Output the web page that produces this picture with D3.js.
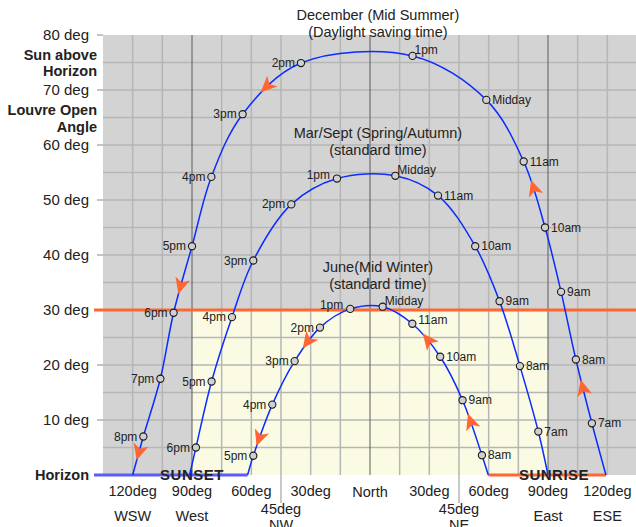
<!DOCTYPE html>
<html><head><meta charset="utf-8">
<script src="https://cdn.jsdelivr.net/npm/d3@7/dist/d3.min.js"></script>
<style>body{margin:0;background:#fff;} text{font-family:Arial,"Liberation Sans",Helvetica,sans-serif;fill:#222;}</style>
</head><body>
<svg id="c" width="636" height="527"></svg>
<script>
// ---- data (azimuth: negative = west, positive = east; altitude in degrees) ----
const decLabels = ["", "7am", "8am", "9am", "10am", "11am", "Midday", "1pm", "2pm", "3pm", "4pm", "5pm", "6pm", "7pm", "8pm", ""];
const decAz     = [119.3, 112.2, 104.1, 96.6, 88.5, 77.7, 58.8, 21.5, -34.9, -64.4, -80.2, -90.0, -99.3, -106.0, -114.6, -120.0];
const decAlt    = [0, 9.4, 21.0, 33.3, 45.0, 57.0, 68.2, 76.2, 74.9, 65.6, 54.2, 41.6, 29.5, 17.5, 7.0, 0];

const marLabels = ["", "7am", "8am", "9am", "10am", "11am", "Midday", "1pm", "2pm", "3pm", "4pm", "5pm", "6pm", ""];
const marAz     = [90.0, 85.1, 75.8, 65.5, 53.2, 34.4, 12.8, -16.7, -39.8, -59.0, -69.8, -80.1, -88.0, -91.2];
const marAlt    = [0, 7.9, 19.8, 31.6, 41.6, 50.8, 54.4, 53.9, 49.2, 39.0, 28.7, 17.0, 5.0, 0];

const junLabels = ["", "8am", "9am", "10am", "11am", "Midday", "1pm", "2pm", "3pm", "4pm", "5pm", ""];
const junAz     = [59.8, 56.6, 46.8, 35.5, 21.4, 6.4, -10.0, -25.3, -38.1, -49.4, -59.0, -61.9];
const junAlt    = [0, 3.6, 13.6, 21.5, 27.5, 30.6, 30.2, 26.8, 20.7, 12.8, 3.5, 0];

// direction arrows (approximate location on each path)
const decArrowAz  = [108.0, 83.1, -51.8, -95.6, -115.8];
const decArrowAlt = [15.8, 52.1, 70.7, 34.5, 4.2];
const junArrowAz  = [52.2, 30.0, -30.7, -55.1];
const junArrowAlt = [9.7, 24.5, 24.2, 6.7];

const yTicks = [10, 20, 30, 40, 50, 60, 70, 80];
const xTickVals  = [-120, -90, -60, -45, -30, 0, 30, 45, 60, 90, 120];
const xTickText  = ["120deg", "90deg", "60deg", "45deg", "30deg", "North", "30deg", "45deg", "60deg", "90deg", "120deg"];
const xDirVals   = [-120, -90, -45, 45, 90, 120];
const xDirText   = ["WSW", "West", "NW", "NE", "East", "ESE"];

const titles = [
  {lines: ["December (Mid Summer)", "(Daylight saving time)"], alt: 82.7},
  {lines: ["Mar/Sept (Spring/Autumn)", "(standard time)"], alt: 61.2},
  {lines: ["June(Mid Winter)", "(standard time)"], alt: 36.9}
];
const louvreAngle = 30;

// ---- layout / scales ----
const svg = d3.select("#c");
const x = d3.scaleLinear().domain([-135, 135]).range([103, 637]);
const y = d3.scaleLinear().domain([0, 80]).range([475, 35]);
const GRAY_BG = "#d3d3d3", GRID = "#b6b6b6", YELLOW = "#fbfbe3", ORANGE = "#ff6633", BLUE = "#0a2cff";

// background
svg.append("rect").attr("x", x(-135)).attr("y", y(80)).attr("width", x(135) - x(-135)).attr("height", y(0) - y(80)).attr("fill", GRAY_BG);
svg.append("rect").attr("x", x(-90)).attr("y", y(louvreAngle)).attr("width", x(90) - x(-90)).attr("height", y(0) - y(louvreAngle)).attr("fill", YELLOW);

// grid
const hGrid = d3.range(5, 80, 5);
svg.append("g").selectAll("line").data(hGrid).join("line")
  .attr("x1", x(-135)).attr("x2", x(135)).attr("y1", d => y(d)).attr("y2", d => y(d))
  .attr("stroke", GRID).attr("stroke-width", 1.5);
const vGrid = d3.range(-120, 135, 15);
svg.append("g").selectAll("line").data(vGrid).join("line")
  .attr("x1", d => x(d)).attr("x2", d => x(d)).attr("y1", y(80)).attr("y2", d => Math.abs(d) === 45 ? 503 : y(0))
  .attr("stroke", d => (d === 0 || Math.abs(d) === 90) ? "#5a5a5a" : GRID)
  .attr("stroke-width", d => (d === 0 || Math.abs(d) === 90) ? 1 : 1.5);

// y axis ticks
svg.append("g").selectAll("line").data(yTicks).join("line")
  .attr("x1", 97).attr("x2", x(-135)).attr("y1", d => y(d)).attr("y2", d => y(d))
  .attr("stroke", "#b0b0b0").attr("stroke-width", 1.5);
svg.append("g").selectAll("text").data(yTicks).join("text")
  .attr("x", 89).attr("y", d => y(d) + 5).attr("text-anchor", "end")
  .style("font-size", "15px").text(d => d + " deg");

// y axis side titles
const sideTitles = [["Sun above", 76.4], ["Horizon", 73.5], ["Louvre Open", 66.3], ["Angle", 63.3]];
svg.append("g").selectAll("text").data(sideTitles).join("text")
  .attr("x", 97).attr("y", d => y(d[1]) + 5).attr("text-anchor", "end")
  .style("font-size", "14.5px").style("font-weight", "bold").text(d => d[0]);
svg.append("text").attr("x", 89).attr("y", y(0) + 5).attr("text-anchor", "end")
  .style("font-size", "14.5px").style("font-weight", "bold").text("Horizon");

// x axis labels
svg.append("g").selectAll("text").data(xTickVals).join("text")
  .attr("x", d => x(d)).attr("y", (d, i) => Math.abs(d) === 45 ? 514 : (d === 0 ? 497 : 496))
  .attr("text-anchor", "middle").style("font-size", "14.5px").text((d, i) => xTickText[i]);
svg.append("g").selectAll("text").data(xDirVals).join("text")
  .attr("x", d => x(d)).attr("y", d => Math.abs(d) === 45 ? 530 : 521)
  .attr("text-anchor", "middle").style("font-size", "14.5px").text((d, i) => xDirText[i]);

// louvre angle line
svg.append("line").attr("x1", 94).attr("x2", x(135)).attr("y1", y(louvreAngle)).attr("y2", y(louvreAngle))
  .attr("stroke", ORANGE).attr("stroke-width", 3);

// horizon segments
svg.append("line").attr("x1", 94).attr("x2", x(junAz[junAz.length - 1])).attr("y1", y(0)).attr("y2", y(0))
  .attr("stroke", "#5b5bff").attr("stroke-width", 3);
svg.append("line").attr("x1", x(junAz[0])).attr("x2", x(decAz[0])).attr("y1", y(0)).attr("y2", y(0))
  .attr("stroke", ORANGE).attr("stroke-width", 3);
svg.append("text").attr("x", x(-90)).attr("y", y(0) + 5).attr("text-anchor", "middle")
  .style("font-size", "15px").style("font-weight", "bold").style("letter-spacing", "0.5px").text("SUNSET");
svg.append("text").attr("x", x(90) + 6).attr("y", y(0) + 5).attr("text-anchor", "middle")
  .style("font-size", "15px").style("font-weight", "bold").style("letter-spacing", "0.5px").text("SUNRISE");

// titles
titles.forEach(t => {
  const g = svg.append("text").attr("text-anchor", "middle").style("font-size", "14.5px");
  t.lines.forEach((l, i) => g.append("tspan").attr("x", x(4)).attr("y", y(t.alt) + i * 17).text(l));
});

// sun paths
const line = d3.line().x(d => x(d.az)).y(d => y(d.alt)).curve(d3.curveCatmullRom.alpha(0.5));
const labelSide = {
  "dec:1pm": "ur", "mar:Midday": "ur", "mar:1pm": "ul", "jun:1pm": "ul", "jun:Midday": "ur", "jun:11am": "ru"
};
function series(key, labels, az, alt, arrAz, arrAlt) {
  const pts = labels.map((t, i) => ({t, az: az[i], alt: alt[i]}));
  const path = svg.append("path").attr("d", line(pts)).attr("fill", "none")
    .attr("stroke", BLUE).attr("stroke-width", 1.5);
  const node = path.node();
  const len = node.getTotalLength();
  // arrows
  if (arrAz) {
    arrAz.forEach((a, i) => {
      const px = x(a), py = y(arrAlt[i]);
      let best = 0, bd = Infinity;
      for (let L = 0; L <= len; L += 0.5) {
        const p = node.getPointAtLength(L);
        const dd = (p.x - px) ** 2 + (p.y - py) ** 2;
        if (dd < bd) { bd = dd; best = L; }
      }
      const p0 = node.getPointAtLength(Math.max(0, best - 2));
      const p1 = node.getPointAtLength(Math.min(len, best + 2));
      const ang = Math.atan2(p1.y - p0.y, p1.x - p0.x) * 180 / Math.PI;
      const c = node.getPointAtLength(best);
      svg.append("path").attr("d", "M9,0 L-7,-7.5 L-3,0 L-7,7.5 Z")
        .attr("transform", `translate(${c.x},${c.y}) rotate(${ang})`)
        .attr("fill", ORANGE);
    });
  }
  const lab = pts.filter(d => d.t !== "");
  svg.append("g").selectAll("circle").data(lab).join("circle")
    .attr("cx", d => x(d.az)).attr("cy", d => y(d.alt)).attr("r", 3.6)
    .attr("fill", "#d0d0d0").attr("stroke", "#1a1a1a").attr("stroke-width", 1.1);
  svg.append("g").selectAll("text").data(lab).join("text")
    .each(function(d) {
      const side = labelSide[key + ":" + d.t] || (d.az >= 0 ? "r" : "l");
      const cx = x(d.az), cy = y(d.alt);
      let tx, ty, anchor;
      if (side === "r") { tx = cx + 6; ty = cy + 4; anchor = "start"; }
      else if (side === "l") { tx = cx - 6; ty = cy + 4; anchor = "end"; }
      else if (side === "ur") { tx = cx + 2; ty = cy - 2; anchor = "start"; }
      else if (side === "ul") { tx = cx - 7; ty = cy + 0.5; anchor = "end"; }
      else { tx = cx + 6; ty = cy + 0.5; anchor = "start"; }
      d3.select(this).attr("x", tx).attr("y", ty).attr("text-anchor", anchor);
    })
    .style("font-size", "12px").text(d => d.t);
}
series("dec", decLabels, decAz, decAlt, decArrowAz, decArrowAlt);
series("mar", marLabels, marAz, marAlt);
series("jun", junLabels, junAz, junAlt, junArrowAz, junArrowAlt);
</script>
</body></html>
